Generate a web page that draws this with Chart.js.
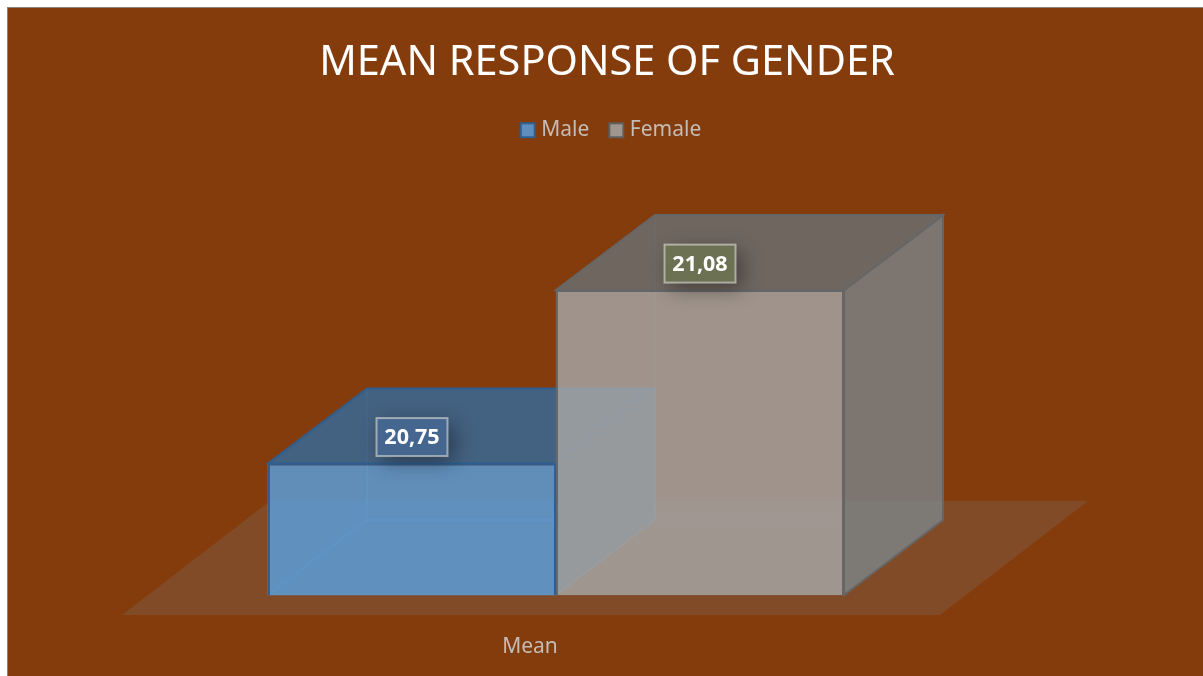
<!DOCTYPE html>
<html><head><meta charset="utf-8">
<style>html,body{margin:0;padding:0;background:#fff}canvas{display:block}</style>
<script src="https://cdn.jsdelivr.net/npm/chart.js@4"></script></head>
<body><div style="width:1203px;height:676px"><canvas id="c" width="1203" height="676"></canvas></div>
<script>
const categories = ['Mean'];
const maleValues = [20.75];
const femaleValues = [21.08];
const seriesNames = ['Male', 'Female'];
const titleText = 'MEAN RESPONSE OF GENDER';
const axisMin = 20.5, axisMax = 21.345;
const FONT = '"Noto Sans", sans-serif';
const DX = 99, DY = -75;

const styles = [
 {front:'rgba(91,155,213,0.86)', edge:'#2f5f8e', top:'rgba(58,102,143,0.88)', side:'rgba(70,105,130,0.88)', back:'rgba(91,155,213,0.04)', line:'rgba(91,155,213,0.45)', lbl:'#45678f'},
 {front:'rgba(165,165,165,0.83)', edge:'#666666', top:'rgba(107,111,113,0.83)', side:'rgba(124,130,132,0.83)', back:'rgba(165,165,165,0.04)', line:'rgba(130,130,130,0.22)', lbl:'#6b7152'}
];
function poly(ctx, pts, fill, stroke, lw){
  ctx.beginPath(); pts.forEach((p,i)=> i?ctx.lineTo(p[0],p[1]):ctx.moveTo(p[0],p[1])); ctx.closePath();
  if(fill){ctx.fillStyle=fill;ctx.fill();}
  if(stroke){ctx.strokeStyle=stroke;ctx.lineWidth=lw||1.5;ctx.stroke();}
}
const box3d = {
 id:'box3d',
 afterLayout(chart){
  const l=chart.legend; l.left+=4; l.right+=4;
  l.legendHitBoxes.forEach(h=>{h.left+=4;});
 },
 beforeDraw(chart){
  const c=chart.ctx; c.save();
  c.fillStyle='#fff'; c.fillRect(0,0,chart.width,chart.height);
  c.fillStyle='#8f8279'; c.fillRect(7,7,chart.width-7,chart.height-7);
  c.fillStyle='#843c0c'; c.fillRect(8,8,chart.width-8,chart.height-8);
  c.restore();
 },
 beforeDatasetsDraw(chart){
  const c=chart.ctx, a=chart.chartArea; c.save();
  const fy=a.bottom+20, bx=148, by=-114, shift=-25;
  poly(c,[[a.left+shift,fy],[a.right+shift,fy],[a.right+shift+bx,fy+by],[a.left+shift+bx,fy+by]],'#824b27');
  chart.data.datasets.forEach((d,i)=>{
   const b=chart.getDatasetMeta(i).data[0], s=styles[i];
   const L=b.x-b.width/2,R=b.x+b.width/2,T=b.y,B=b.base;
   poly(c,[[L+DX,T+DY],[R+DX,T+DY],[R+DX,B+DY],[L+DX,B+DY]],s.back,s.line,1);
   poly(c,[[L,T],[L+DX,T+DY],[L+DX,B+DY],[L,B]],s.back,s.line,1);
   poly(c,[[L,B],[R,B],[R+DX,B+DY],[L+DX,B+DY]],s.back,s.line,1);
   poly(c,[[R,T],[R+DX,T+DY],[R+DX,B+DY],[R,B]],s.side,i?s.edge:s.line,i?2:1);
   poly(c,[[L,T],[R,T],[R+DX,T+DY],[L+DX,T+DY]],s.top,s.edge,2);
  });
  c.restore();
 },
 afterDatasetsDraw(chart){
  const c=chart.ctx; c.save();
  c.font='bold 21.5px '+FONT; c.textAlign='center'; c.textBaseline='middle';
  chart.data.datasets.forEach((d,i)=>{
   const b=chart.getDatasetMeta(i).data[0], s=styles[i];
   const w=71,h=38,cx=b.x,cy=b.y-26.5;
   c.save(); c.shadowColor='rgba(0,0,0,0.4)'; c.shadowBlur=20; c.shadowOffsetX=6; c.shadowOffsetY=6;
   c.fillStyle=s.lbl; c.fillRect(cx-w/2,cy-h/2,w,h); c.restore();
   c.strokeStyle='rgba(235,235,225,0.55)'; c.lineWidth=2; c.strokeRect(cx-w/2,cy-h/2,w,h);
   c.fillStyle='#ffffff'; c.fillText(d.data[0].toFixed(2).replace('.',','),cx,cy+1);
  });
  chart.legend.legendHitBoxes.forEach((h,i)=>{
   const x=h.left, y=h.top+h.height/2-7;
   c.fillStyle=i?'#9f9690':'#5e8dbe'; c.strokeStyle=i?'#5f5f5f':'#2f5f8e'; c.lineWidth=2;
   c.fillRect(x,y,14,14); c.strokeRect(x,y,14,14);
  });
  c.restore();
 }
};
const ds = (i,data)=>({label:seriesNames[i],data,base:axisMin,backgroundColor:styles[i].front,borderColor:styles[i].edge,borderWidth:2,categoryPercentage:0.7042,barPercentage:1});
new Chart(document.getElementById('c'),{
 type:'bar',
 plugins:[box3d],
 data:{labels:categories,datasets:[ds(0,maleValues),ds(1,femaleValues)]},
 options:{
  responsive:false,animation:false,
  layout:{padding:{left:11,right:0,top:18,bottom:0}},
  plugins:{
   tooltip:{enabled:false},
   title:{display:true,text:titleText,color:'#ffffff',font:{family:FONT,size:41.5,weight:'normal'},padding:{top:20,bottom:12}},
   legend:{display:true,position:'top',labels:{color:'#c4bcb6',font:{family:FONT,size:21},boxWidth:10,boxHeight:14,padding:20,
     generateLabels:(chart)=>chart.data.datasets.map((d,i)=>({text:d.label,fontColor:'#c4bcb6',fillStyle:'rgba(0,0,0,0)',strokeStyle:'rgba(0,0,0,0)',lineWidth:0,datasetIndex:i}))}}
  },
  scales:{
   x:{grid:{display:false},border:{display:false},ticks:{color:'#c4bcb6',font:{family:FONT,size:21},padding:31,labelOffset:-26},afterFit(s){s.height=81;}},
   y:{position:'left',min:axisMin,max:axisMax,grid:{display:false},border:{display:false},ticks:{display:false},afterFit(s){s.width=136;}},
   y2:{position:'right',min:axisMin,max:axisMax,grid:{display:false},border:{display:false},ticks:{display:false},afterFit(s){s.width=238;}}
  }
 }
});
</script></body></html>
